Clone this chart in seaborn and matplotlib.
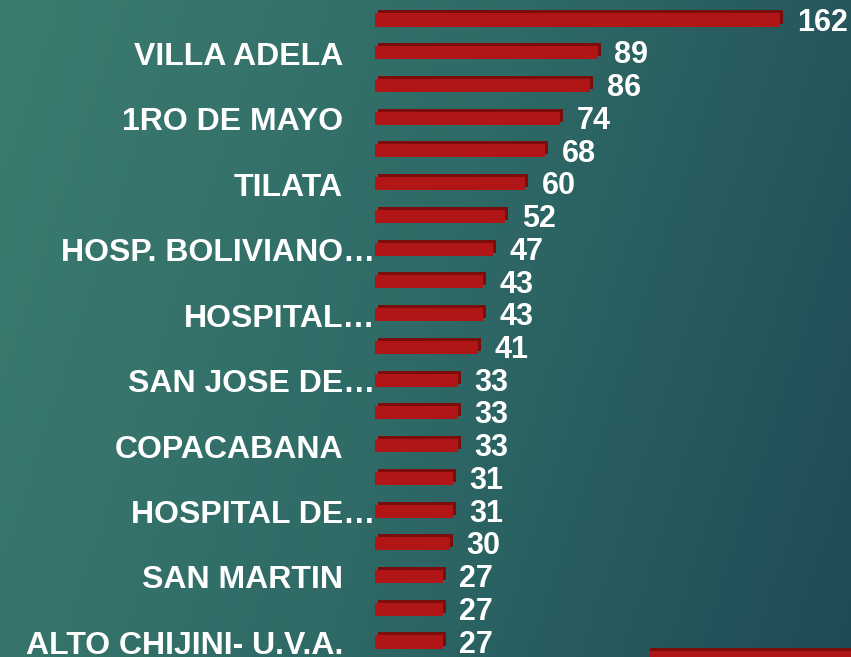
import numpy as np
import pandas as pd
import matplotlib
matplotlib.use("Agg")
import matplotlib.pyplot as plt
import seaborn as sns
from matplotlib.colors import LinearSegmentedColormap
from matplotlib.patches import Rectangle

# data (top to bottom)
labels = ["", "VILLA ADELA", "", "1RO DE MAYO", "", "TILATA", "",
          "HOSP. BOLIVIANO…", "", "HOSPITAL…", "", "SAN JOSE DE…", "",
          "COPACABANA", "", "HOSPITAL DE…", "", "SAN MARTIN", "",
          "ALTO CHIJINI- U.V.A."]
values = [162, 89, 86, 74, 68, 60, 52, 47, 43, 43, 41, 33, 33, 33, 31,
          31, 30, 27, 27, 27]

df = pd.DataFrame({"pos": range(len(values)), "value": values})

sns.set_theme(style="white")
plt.rcParams["font.family"] = ["Liberation Sans", "DejaVu Sans"]

W, H = 851, 657
fig = plt.figure(figsize=(W / 100, H / 100), dpi=100)

# teal gradient background
bg = fig.add_axes([0, 0, 1, 1])
gx, gy = np.meshgrid(np.linspace(0, 1, 300), np.linspace(0, 1, 300))
grad = 0.8 * gx + 0.2 * (1 - gy)
cmap = LinearSegmentedColormap.from_list("bg", ["#3c7c70", "#2f6a66", "#1f4b56"])
bg.imshow(grad, cmap=cmap, aspect="auto", extent=[0, 1, 0, 1], origin="lower")
bg.set_axis_off()

# main axes: bars start at x=375 px, centres from y=20 to y=642 px
step = (642 - 20) / 19
x0 = 375
xmax = 162 * (W - x0) / (780 - x0)
top_px = 20 - step / 2
bot_px = 642 + step / 2
ax = fig.add_axes([x0 / W, (H - bot_px) / H, (W - x0) / W, (bot_px - top_px) / H])
ax.patch.set_alpha(0)

red = "#b11616"
dark = "#7c0d0d"
bh = 0.40
dx = 3 / ((780 - x0) / 162)
dy = 3 / step

# depth face drawn behind the main bar
ax.barh(df["pos"] - dy, df["value"], left=dx, height=bh, color=dark, zorder=1)
sns.barplot(data=df, x="value", y="pos", orient="h", color=red, width=bh,
            saturation=1, ax=ax, zorder=2)
for p in ax.patches:
    p.set_edgecolor("none")

ax.set_xlim(0, xmax)
ax.set_ylim(len(values) - 0.5, -0.5)
ax.set_axis_off()

for i, v in enumerate(values):
    ax.text(v + dx + 5.5, i + 0.08, str(v), color="white", fontsize=22,
            fontweight="bold", va="center", ha="left", zorder=3)

# category labels: full names end near x=343 px, truncated ones at the bar
for i, lab in enumerate(labels):
    if not lab:
        continue
    xr = 375 if lab.endswith("…") else 343
    ax.text((xr - x0) / (W - x0), i + 0.12, lab, transform=ax.get_yaxis_transform(),
            color="white", fontsize=23, fontweight="bold", va="center", ha="right")

# partial red shape cut at the bottom right corner
fig.add_artist(Rectangle((650 / W, 0), (W - 650) / W, 9 / H, transform=fig.transFigure,
                         facecolor=red, edgecolor="none"))
fig.add_artist(Rectangle((650 / W, 6 / H), (W - 650) / W, 3 / H, transform=fig.transFigure,
                         facecolor=dark, edgecolor="none"))

fig.savefig("out.png", dpi=100)
